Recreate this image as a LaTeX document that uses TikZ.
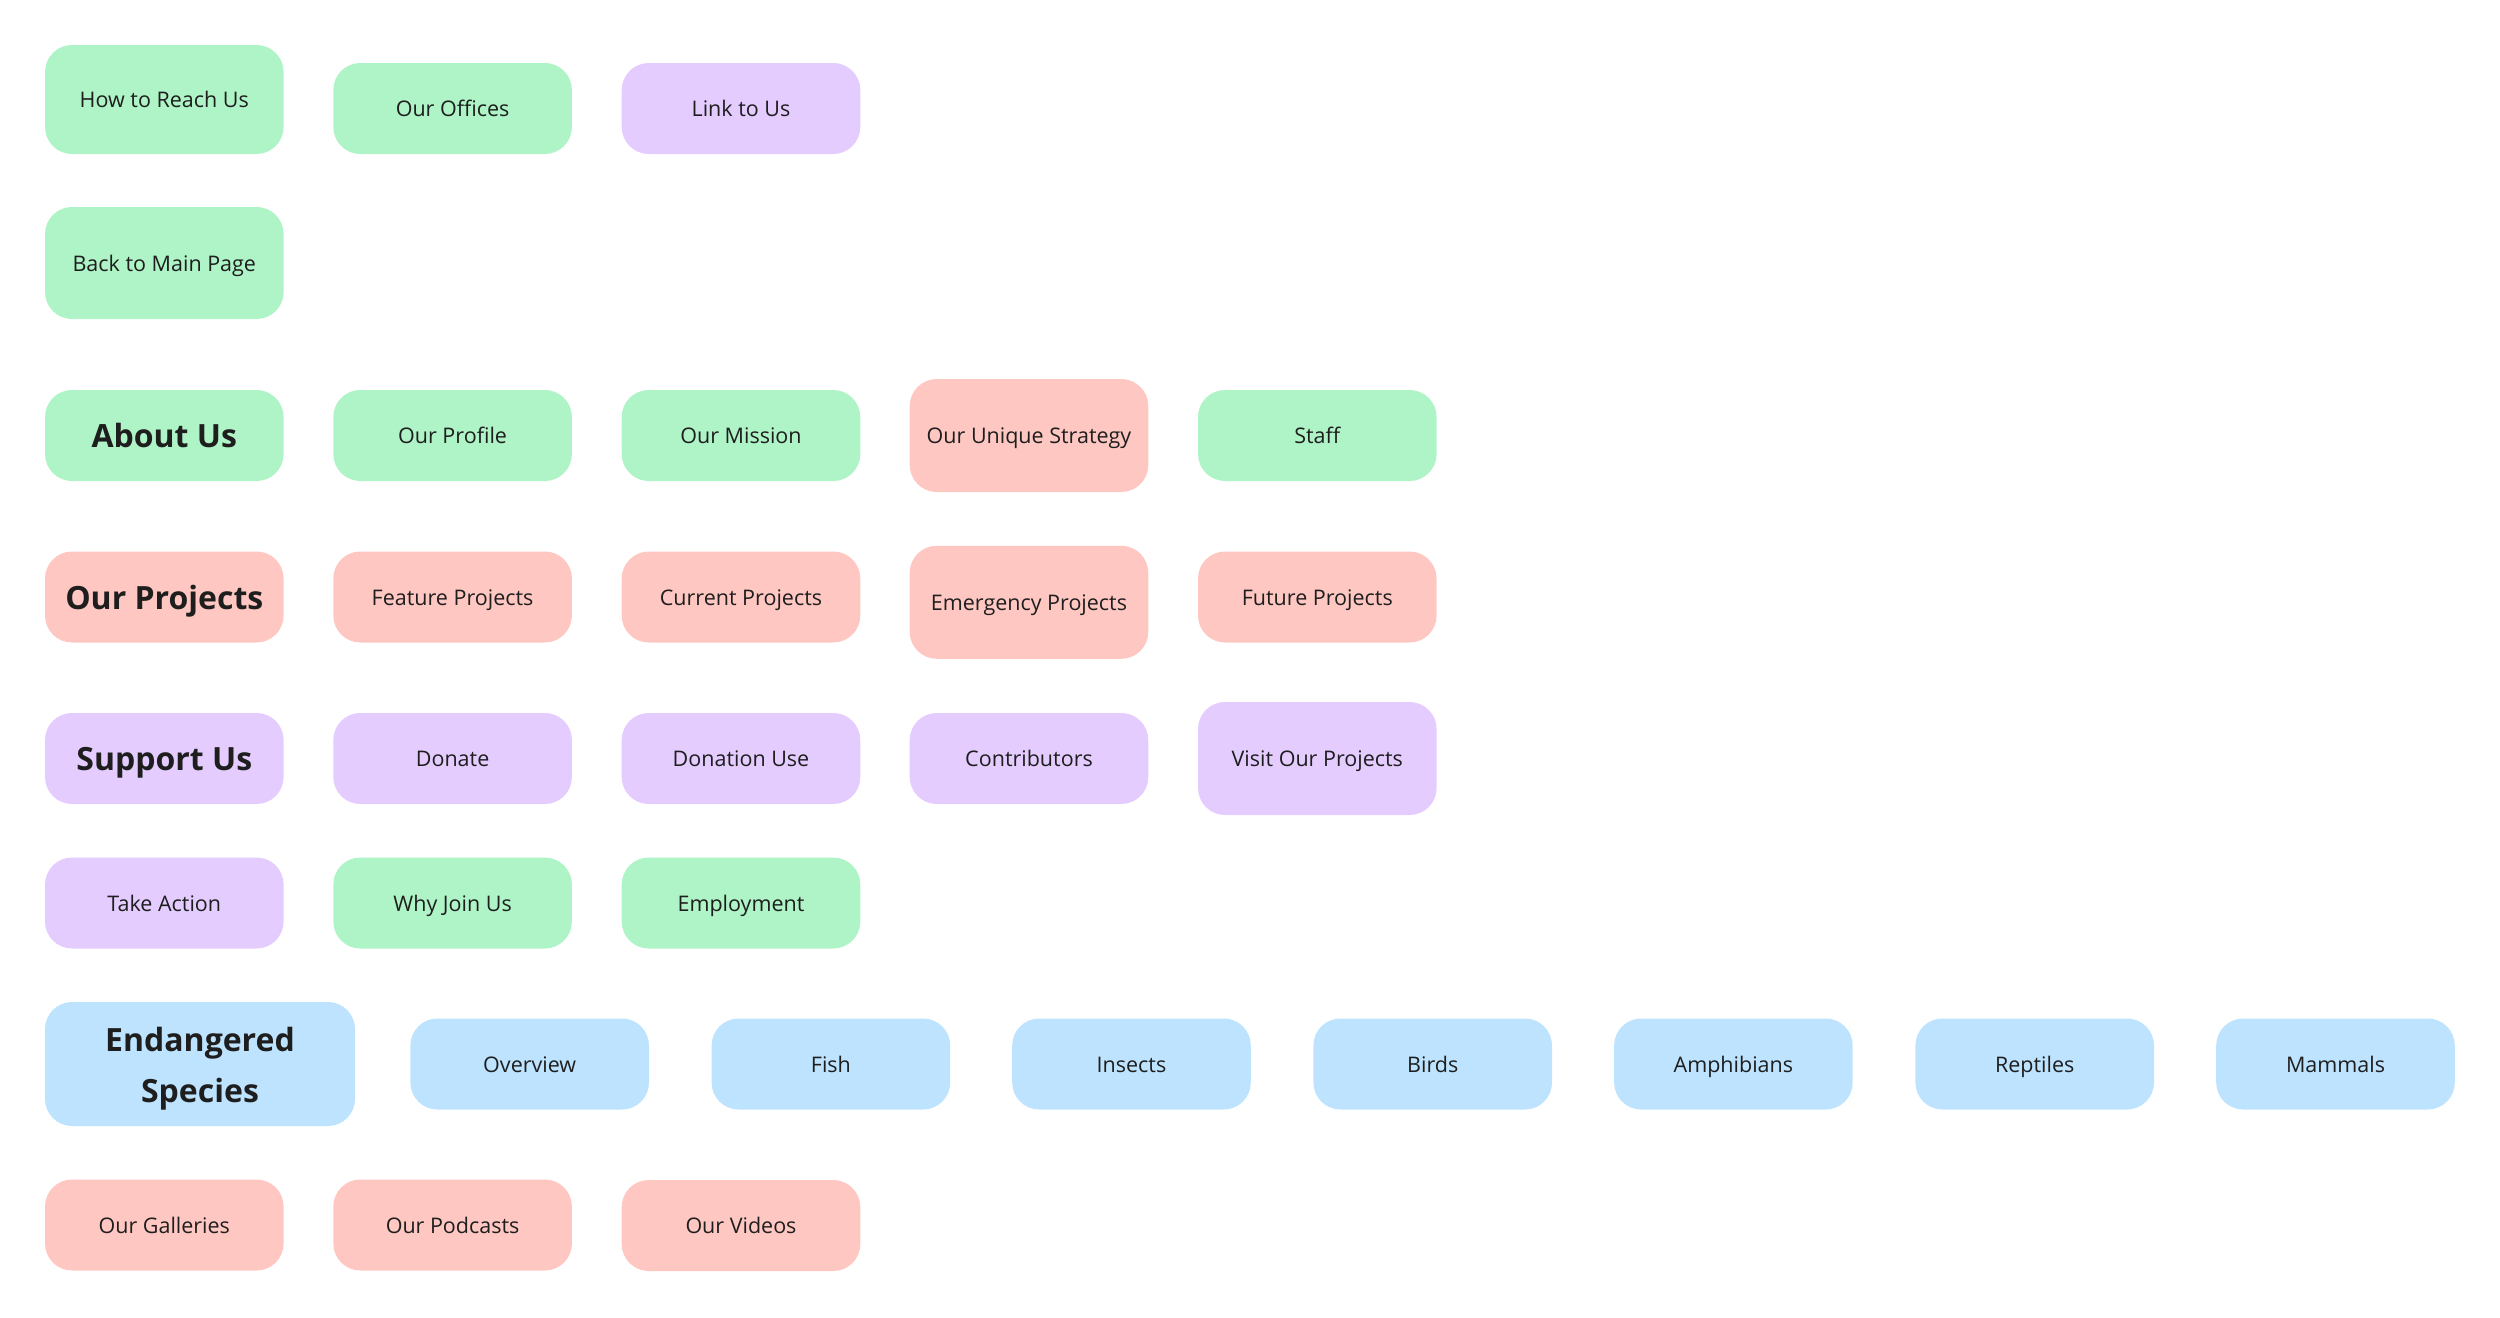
\documentclass[tikz,border=0pt]{standalone}
\usepackage{fontspec}
\setmainfont{Open Sans}
\definecolor{cgreen}{HTML}{AFF4C6}
\definecolor{cviolet}{HTML}{E4CCFF}
\definecolor{cred}{HTML}{FFC7C2}
\definecolor{cblue}{HTML}{BDE3FF}
\definecolor{ctext}{HTML}{1E1E1E}
\tikzset{
  base/.style={rounded corners=27pt, inner sep=0pt, text=ctext,
    minimum width=238.6pt, minimum height=91pt, font=\fontsize{21.5}{26}\selectfont},
  card/.style={base, text height=20.4pt, text depth=4.1pt},
  head/.style={base, text height=30.4pt, text depth=6.1pt, font=\bfseries\fontsize{32}{51}\selectfont},
  headml/.style={base, font=\bfseries\fontsize{32}{51}\selectfont},
  gr/.style={fill=cgreen}, vi/.style={fill=cviolet}, rd/.style={fill=cred}, bl/.style={fill=cblue},
  tall/.style={minimum height=113pt}
}
\begin{document}
\begin{tikzpicture}[x=1pt,y=-1pt]
\useasboundingbox (0,0) rectangle (2500,1317);
% row 1
\node[card,gr,minimum height=109pt] (reach) at (164.3,99.5) {How to Reach Us};
\node[card,gr] (offices) at (452.6,108.5) {Our Offices};
\node[card,vi] (link) at (741,108.5) {Link to Us};
% row 2
\node[card,gr,minimum height=112pt] (back) at (164.3,263) {Back to Main Page};
% row 3
\node[head,gr] (about) at (164.3,435.5) {About Us};
\node[card,gr] (profile) at (452.6,435.5) {Our Profile};
\node[card,gr] (mission) at (741,435.5) {Our Mission};
\node[card,rd,tall] (strategy) at (1029,435.5) {Our Unique Strategy};
\node[card,gr] (staff) at (1317.3,435.5) {Staff};
% row 4
\node[head,rd] (projects) at (164.3,597) {Our Projects};
\node[card,rd] (feature) at (452.6,597) {Feature Projects};
\node[card,rd] (current) at (741,597) {Current Projects};
\node[card,rd,tall] (emergency) at (1029,602.3) {Emergency Projects};
\node[card,rd] (future) at (1317.3,597) {Future Projects};
% row 5
\node[head,vi] (support) at (164.3,758.5) {Support Us};
\node[card,vi] (donate) at (452.6,758.5) {Donate};
\node[card,vi] (donuse) at (741,758.5) {Donation Use};
\node[card,vi] (contrib) at (1029,758.5) {Contributors};
\node[card,vi,tall] (visit) at (1317.3,758.5) {Visit Our Projects};
% row 6
\node[card,vi] (action) at (164.3,903) {Take Action};
\node[card,gr] (join) at (452.6,903) {Why Join Us};
\node[card,gr] (employ) at (741,903) {Employment};
% row 7
\node[headml,bl,minimum width=310pt,minimum height=124pt] (species) at (200,1064)
  {\raisebox{-9.5pt}[0pt][0pt]{\begin{tabular}{@{}c@{}}Endangered\\Species\end{tabular}}};
\node[card,bl] (overview) at (529.7,1064) {Overview};
\node[card,bl] (fish) at (830.9,1064) {Fish};
\node[card,bl] (insects) at (1131.5,1064) {Insects};
\node[card,bl] (birds) at (1432.7,1064) {Birds};
\node[card,bl] (amph) at (1733.4,1064) {Amphibians};
\node[card,bl] (rept) at (2034.7,1064) {Reptiles};
\node[card,bl] (mamm) at (2335.5,1064) {Mammals};
% row 8
\node[card,rd] (galleries) at (164.3,1225) {Our Galleries};
\node[card,rd] (podcasts) at (452.6,1225) {Our Podcasts};
\node[card,rd] (videos) at (741,1225.5) {Our Videos};
\end{tikzpicture}
\end{document}
